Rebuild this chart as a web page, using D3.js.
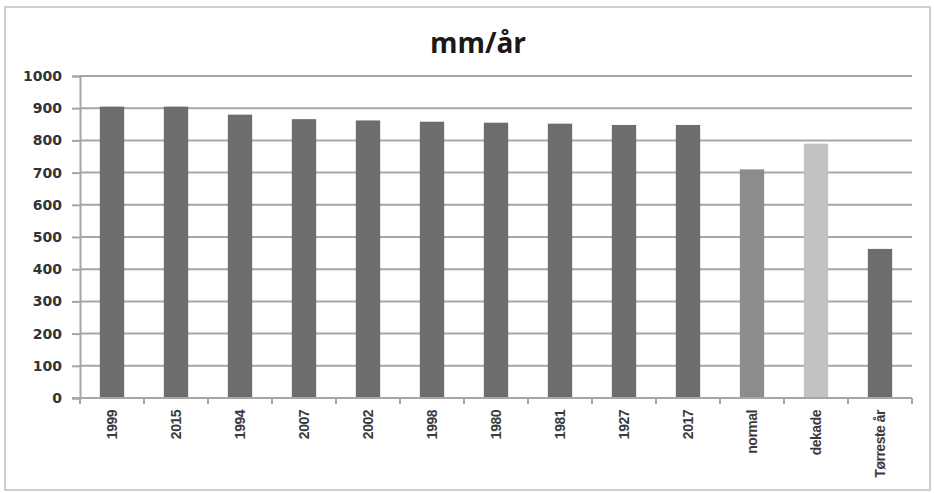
<!DOCTYPE html>
<html>
<head>
<meta charset="utf-8">
<script src="https://cdn.jsdelivr.net/npm/d3@7"></script>
<style>
  body { margin: 0; background: #fff; }
  svg { display: block; }
</style>
</head>
<body>
<svg id="chart" width="934" height="493"></svg>
<script>
// data
var categories = ["1999", "2015", "1994", "2007", "2002", "1998", "1980", "1981", "1927", "2017", "normal", "dekade", "Tørreste år"];
var values = [905, 905, 880, 866, 862, 858, 855, 852, 848, 848, 710, 790, 463];
var yTicks = [0, 100, 200, 300, 400, 500, 600, 700, 800, 900, 1000];
var title = "mm/år";

var colorMap = {"normal": "#8c8c8c", "dekade": "#c2c2c2"};
var barColor = function(d){
  return colorMap[d] || "#6d6d6d";
}

var svg = d3.select("#chart");
var margin = {top: 76, right: 22, bottom: 95, left: 80};
var width = 934 - margin.left - margin.right,
    height = 493 - margin.top - margin.bottom;

// chart frame
svg.append("rect")
  .attr("x", 5).attr("y", 7)
  .attr("width", 925).attr("height", 483)
  .attr("fill", "none")
  .attr("stroke", "#cfcfcf")
  .attr("stroke-width", 2);

svg.append("text")
  .attr("x", 478).attr("y", 53)
  .attr("text-anchor", "middle")
  .style("font-family", "'Open Sans', 'DejaVu Sans', sans-serif")
  .style("font-size", "28px")
  .style("font-weight", "bold")
  .attr("fill", "#1a1a1a")
  .text(title);

var g = svg.append("g")
  .attr("transform", "translate(" + margin.left + "," + margin.top + ")");

var x = d3.scaleBand()
  .domain(categories)
  .range([0, width])
  .paddingInner(0.62)
  .paddingOuter(0.31);

var y = d3.scaleLinear()
  .domain([0, 1000])
  .range([height, 0]);

// gridlines
g.selectAll("line.grid")
  .data(yTicks.filter(function(d){ return d > 0; }))
  .enter().append("line")
  .attr("class", "grid")
  .attr("x1", 0).attr("x2", width)
  .attr("y1", function(d){ return y(d); })
  .attr("y2", function(d){ return y(d); })
  .attr("stroke", "#a6a6a6")
  .attr("stroke-width", 2);

// y axis
var yAxis = g.append("g")
  .call(d3.axisLeft(y).tickValues(yTicks).tickFormat(d3.format("d")).tickSize(8).tickPadding(10));
yAxis.select(".domain").attr("stroke", "#a6a6a6").attr("stroke-width", 2);
yAxis.selectAll(".tick line").attr("stroke", "#a6a6a6").attr("stroke-width", 2);
yAxis.selectAll("text")
  .style("font-family", "'DejaVu Sans', sans-serif")
  .style("font-size", "14px")
  .style("font-weight", "bold")
  .attr("fill", "#333");

// bars
g.selectAll("rect.bar")
  .data(categories)
  .enter().append("rect")
  .attr("class", "bar")
  .attr("x", function(d){ return x(d); })
  .attr("width", x.bandwidth())
  .attr("y", function(d, i){ return y(values[i]); })
  .attr("height", function(d, i){ return height - y(values[i]); })
  .attr("fill", barColor);

// x axis with ticks between categories
var step = x.step();
var xAxis = g.append("g")
  .attr("transform", "translate(0," + height + ")");
xAxis.append("line")
  .attr("x1", -8).attr("x2", width)
  .attr("stroke", "#a6a6a6").attr("stroke-width", 2);
xAxis.selectAll("line.tick")
  .data(d3.range(categories.length + 1))
  .enter().append("line")
  .attr("class", "tick")
  .attr("x1", function(i){ return i * step; })
  .attr("x2", function(i){ return i * step; })
  .attr("y1", 0).attr("y2", 6)
  .attr("stroke", "#a6a6a6").attr("stroke-width", 2);

xAxis.selectAll("text")
  .data(categories)
  .enter().append("text")
  .attr("transform", function(d){
    return "translate(" + (x(d) + x.bandwidth() / 2 + 5) + ",12) rotate(-90)";
  })
  .attr("text-anchor", "end")
  .style("font-family", "'Liberation Sans', sans-serif")
  .style("font-size", "14px")
  .style("font-weight", "bold")
  .style("letter-spacing", "-0.5px")
  .attr("fill", "#3a3a3a")
  .text(function(d){ return d; });
</script>
</body>
</html>
